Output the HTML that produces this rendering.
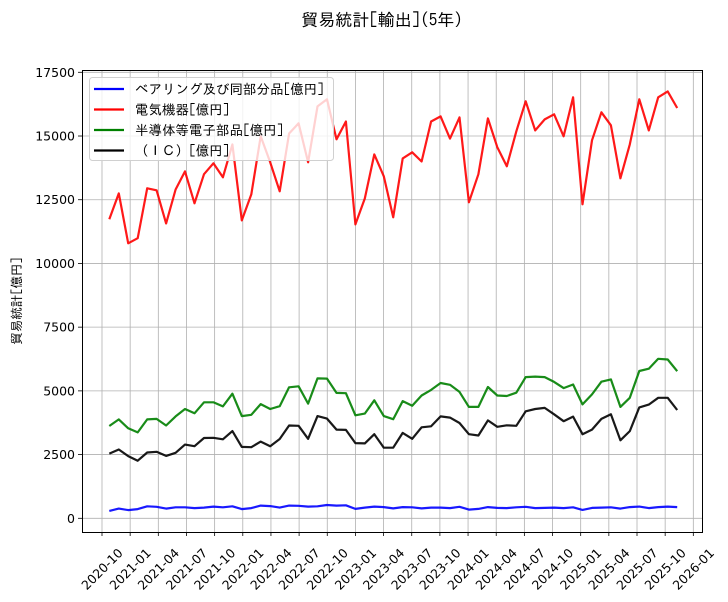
<!DOCTYPE html>
<html><head><meta charset="utf-8"><style>
html,body{margin:0;padding:0;background:#fff;}
svg{display:block;font-family:"DejaVu Sans","Liberation Sans","Noto Sans CJK JP",sans-serif;}
</style></head><body>
<svg id="chart" width="728" height="602" viewBox="0 0 728 602" xmlns="http://www.w3.org/2000/svg">
<text x="382" y="26" text-anchor="middle" font-size="17" font-family="IPAGothic,'Noto Sans CJK JP',sans-serif">貿易統計[輸出](5年)</text>
<text transform="translate(21,301) rotate(-90)" text-anchor="middle" font-size="12.5" font-family="IPAGothic,'Noto Sans CJK JP',sans-serif">貿易統計[億円]</text>
<g id="grid"></g>
<g id="series"></g>
<rect x="82.5" y="70.5" width="620" height="462" fill="none" stroke="#000" stroke-width="1"/>
<g id="axes"></g>
<g id="legend"></g>
</svg>
<script>
const xTickLabels = ["2020-10","2021-01","2021-04","2021-07","2021-10","2022-01","2022-04","2022-07","2022-10","2023-01","2023-04","2023-07","2023-10","2024-01","2024-04","2024-07","2024-10","2025-01","2025-04","2025-07","2025-10","2026-01"];
const yTicks = [0,2500,5000,7500,10000,12500,15000,17500];
const bearing = [290,380,320,360,470,450,380,430,430,400,420,460,430,470,360,400,500,480,420,500,490,460,470,520,500,510,370,420,460,440,390,440,430,390,420,420,400,450,340,370,440,410,400,430,450,400,410,420,400,430,330,410,420,430,380,440,460,400,440,460,440];
const electric = [11730,12750,10790,10990,12950,12870,11570,12900,13610,12360,13500,13930,13380,14670,11690,12710,14990,13970,12830,15100,15500,13970,16160,16440,14870,15570,11530,12550,14280,13420,11810,14120,14360,14000,15570,15770,14900,15730,12400,13500,15690,14560,13810,15180,16360,15220,15650,15850,14990,16520,12320,14830,15930,15420,13340,14670,16440,15220,16520,16750,16100];
const semi = [3620,3880,3530,3370,3880,3900,3640,4000,4290,4120,4550,4550,4390,4890,4010,4060,4480,4290,4400,5140,5180,4500,5490,5480,4920,4910,4040,4110,4630,4010,3890,4600,4420,4820,5040,5310,5240,4960,4370,4370,5150,4820,4800,4930,5540,5560,5540,5350,5110,5250,4470,4860,5360,5450,4370,4730,5780,5870,6260,6230,5770];
const ic = [2540,2700,2440,2260,2580,2610,2450,2570,2890,2830,3150,3160,3100,3420,2800,2790,3010,2830,3110,3640,3630,3120,4010,3910,3480,3470,2950,2940,3300,2770,2770,3350,3120,3570,3610,4000,3950,3740,3300,3250,3840,3590,3650,3630,4200,4290,4330,4080,3810,3990,3300,3480,3900,4080,3060,3420,4350,4460,4730,4730,4250];
const seriesNames = ["ベアリング及び同部分品[億円]","電気機器[億円]","半導体等電子部品[億円]","（ＩＣ）[億円]"];

const NS="http://www.w3.org/2000/svg";
const xm = m => 102 + m*9.386;
const xIdx = i => xm(0.78 + i*1.0083);
const y = v => 518.3 - v*0.025486;
function mk(tag, attrs, parent){const e=document.createElementNS(NS,tag);for(const k in attrs)e.setAttribute(k,attrs[k]);parent.appendChild(e);return e;}
const grid=document.getElementById('grid'), axes=document.getElementById('axes'), ser=document.getElementById('series'), leg=document.getElementById('legend');

xTickLabels.forEach((lab,k)=>{
  const x=xm(k*3);
  const g=mk('line',{x1:x,x2:x,y1:71,y2:532,stroke:'#b0b0b0','stroke-width':0.8},grid);
  
  
  const t=mk('line',{x1:x,x2:x,y1:532,y2:536,stroke:'#000','stroke-width':0.8},axes);
  
  
  const tx=mk('text',{x:0,y:0,'text-anchor':'middle','dominant-baseline':'central','font-size':12.5,transform:`translate(${x},${569}) rotate(-45)`},axes);
  tx.textContent=lab;
  
  
});
yTicks.forEach(v=>{
  const yy=y(v);
  const g=mk('line',{x1:83,x2:702,y1:yy,y2:yy,stroke:'#b0b0b0','stroke-width':0.8},grid);
  
  
  const t=mk('line',{x1:78,x2:82,y1:yy,y2:yy,stroke:'#000','stroke-width':0.8},axes);
  
  
  const tx=mk('text',{x:75,y:yy+4.5,'text-anchor':'end','font-size':12.5},axes);
  tx.textContent=String(v);
  
  
});
const all=[[bearing,'#0000ff','bearing-line'],[electric,'#ff0000','electric-line'],[semi,'#008000','semiconductor-line'],[ic,'#000000','ic-line']];
all.forEach(([d,c,n])=>{
  const p=mk('polyline',{points:d.map((v,i)=>xIdx(i).toFixed(1)+','+y(v).toFixed(1)).join(' '),fill:'none',stroke:c,'stroke-width':2.2,'stroke-linejoin':'round',opacity:0.9},ser);
  
  
});
const box=mk('rect',{x:89.5,y:77.5,width:244,height:83,rx:3,fill:'#fff','fill-opacity':0.8,stroke:'#d0d0d0'},leg);


seriesNames.forEach((nm,i)=>{
  const yy=89+i*20.5;
  const l=mk('line',{x1:94,x2:124,y1:yy,y2:yy,stroke:all[i][1],'stroke-width':2.2},leg);
  
  
  const t=mk('text',{x:135,y:yy+5,'font-size':13.5,'font-family':"IPAGothic,'Noto Sans CJK JP',sans-serif"},leg);
  t.textContent=nm;
  
  
});
</script>
</body></html>
